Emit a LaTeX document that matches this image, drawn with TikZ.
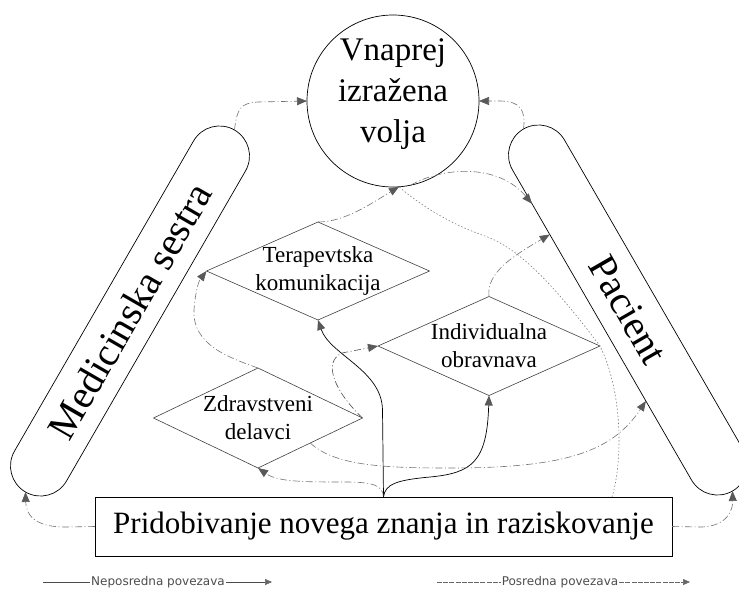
\documentclass[tikz,border=0pt]{standalone}
\usepackage{fontspec}
\setmainfont{Liberation Serif}
\newfontfamily\legfont{DejaVu Sans}
\usetikzlibrary{arrows.meta,shapes.geometric,calc}
\begin{document}
\begin{tikzpicture}[x=1pt,y=-1pt,
  every node/.style={inner sep=0pt, outer sep=0pt},
  tip/.style={-{Triangle[length=10pt,width=8pt,color=black!65]}},
  smalltip/.style={-{Triangle[length=7pt,width=6pt,color=black!60]}},
  direct/.style={draw=black, line width=0.7pt},
  indirect/.style={draw=black!55, line width=0.6pt, dash pattern=on 7pt off 2.5pt on 1pt off 2.5pt},
  dotline/.style={draw=black!50, line width=0.6pt, dash pattern=on 1.5pt off 2pt},
  pill/.style={draw, line width=0.7pt, rectangle, rounded corners=30pt, minimum width=418pt, minimum height=60pt, font=\fontsize{40}{48}\selectfont},
  dia/.style={draw=black!75, line width=0.6pt, diamond, aspect=2.2, inner sep=-15pt, font=\fontsize{23}{28}\selectfont, align=center},
  legtext/.style={font=\legfont\fontsize{12}{14}\selectfont, text=black!70, inner xsep=1pt}
]
\useasboundingbox (0,0) rectangle (739,598);

% main nodes
\node[circle, draw, line width=0.7pt, minimum size=172pt, font=\fontsize{33}{41}\selectfont] (vol) at (393,101)
  {\raisebox{8pt}[\height][\depth]{\begin{tabular}{@{}c@{}}Vnaprej\\izražena\\volja\end{tabular}}};
\node[pill, rotate=60] (med) at (130,311) {Medicinska sestra};
\node[pill, rotate=-60] (pac) at (628,310) {Pacient};
\node[dia, minimum width=223pt, minimum height=98pt] (ter) at (318,271) {Terapevtska\\komunikacija};
\node[dia, minimum width=222pt, minimum height=99pt] (ind) at (489,346) {Individualna\\obravnava};
\node[dia, minimum width=209pt, minimum height=100pt] (zdr) at (258,418) {Zdravstveni\\delavci};
\node[draw, line width=1pt, minimum width=577pt, minimum height=59pt, font=\fontsize{31}{37}\selectfont] (pri) at (383.5,526.5) {Pridobivanje novega znanja in raziskovanje};

% connectors
\draw[indirect, tip] (med.east) .. controls (237,108) and (241,103) .. (258,102) -- (vol.west);
\draw[indirect, tip] (pac.west) .. controls (526,110) and (520,101) .. (500,101) -- (vol.east);
\draw[indirect, tip] (vol.-78) .. controls (440,168) and (497,162) .. ($(pac.south west)!0.165!(pac.south east)$);
\draw[dotline] ($(pri.north west)!0.896!(pri.north east)$) .. controls (622,465) and (624,395) .. (ind.east)
   .. controls (565,300) and (525,250) .. (485,236) .. controls (450,224) and (420,205) .. (vol.-86);
\draw[indirect, tip] (ter.north) .. controls (345,222) and (372,203) .. (vol.-86);
\draw[indirect, tip] (zdr.north) .. controls (230,358) and (192,345) .. (194,310) .. controls (195,295) and (198,282) .. (ter.west);
\draw[direct, tip] (pri.north) -- (382.5,410) .. controls (382,370) and (330,355) .. (ter.south);
\draw[indirect, draw=black!70, tip] (zdr.east) .. controls (335,392) and (322,362) .. (342,353) -- (ind.west);
\draw[indirect, tip] (pri.north) .. controls (383,485) and (372,482) .. (345,482) .. controls (305,482) and (278,482) .. (zdr.south);
\draw[direct, tip] (pri.north) .. controls (385,484) and (397,480) .. (430,477) .. controls (472,473) and (487,462) .. (ind.south);
\draw[indirect, tip] (zdr.south east) .. controls (335,466) and (385,468) .. (450,468) .. controls (565,468) and (612,452) .. ($(pac.south west)!0.71!(pac.south east)$);
\draw[indirect, tip] (ind.north) .. controls (486,272) and (515,255) .. ($(pac.south west)!0.25!(pac.south east)$);
\draw[indirect, tip] (pri.west) -- (65,527) .. controls (35,527) and (26,515) .. (med.west);
\draw[indirect, tip] (pri.east) -- (702,527) .. controls (727,526) and (733,510) .. (pac.east);

% legend
\node[legtext] (leg1) at (158,582) {Neposredna povezava};
\node[legtext] (leg2) at (560,582) {Posredna povezava};
\coordinate (l1a) at (43,582);
\coordinate (l1b) at (272,582);
\coordinate (l2a) at (437,582);
\coordinate (l2b) at (690,582);
\draw[direct, line width=0.5pt, draw=black!70] (l1a) -- (leg1.west);
\draw[direct, line width=0.5pt, draw=black!70, smalltip] (leg1.east) -- (l1b);
\draw[draw=black!60, line width=0.6pt, dash pattern=on 5pt off 1.2pt] (l2a) -- (leg2.west);
\draw[draw=black!60, line width=0.6pt, dash pattern=on 5pt off 1.2pt, smalltip] (leg2.east) -- (l2b);
\end{tikzpicture}
\end{document}
